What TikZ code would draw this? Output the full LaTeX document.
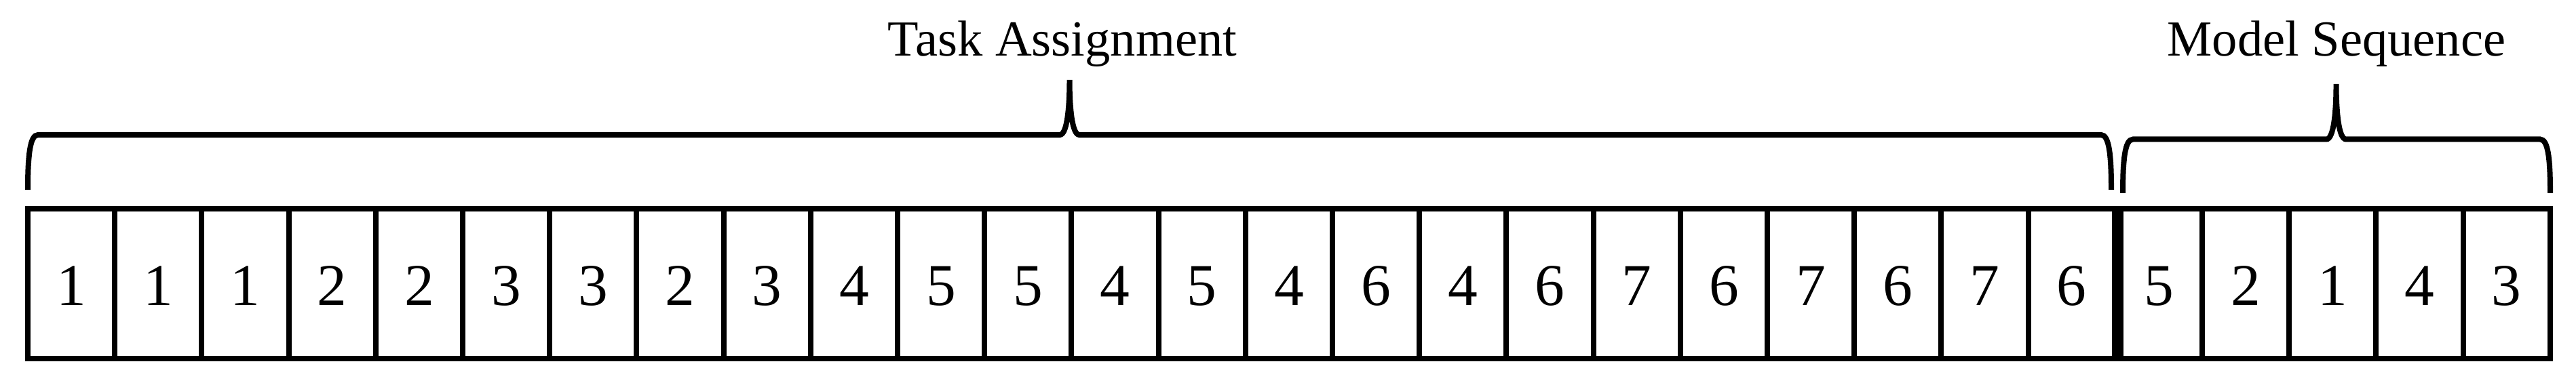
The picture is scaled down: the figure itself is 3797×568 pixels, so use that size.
\documentclass[tikz,border=0pt]{standalone}
\usepackage{fontspec}
\setmainfont{Liberation Serif}
\begin{document}
\begin{tikzpicture}[x=0.2pt,y=0.2pt,
  cell/.style={draw,line width=1.6pt,minimum width=25.64pt,minimum height=44.2pt,inner sep=0pt,anchor=center},
  digit/.style={font=\fontsize{17.5pt}{20pt}\selectfont,anchor=base,inner sep=0pt},
  bracepath/.style={line width=1.6pt},
  headlabel/.style={font=\fontsize{14.9pt}{18pt}\selectfont,anchor=base,inner sep=0pt}]
\useasboundingbox (0,0) rectangle (3797,568);
% cells
\def\cellw{128.2}
\foreach \v [count=\i] in {1,1,1,2,2,3,3,2,3,4,5,5,4,5,4,6,4,6,7,6,7,6,7,6,5,2,1,4,3}{
  \pgfmathsetmacro\cx{41+(\i-0.5)*\cellw}
  \node[cell] (c\i) at (\cx,149.5) {};
  \node[digit] (d\i) at (\cx,117) {\v};
}
% thick divider between the two parts
\draw[line width=3.4pt] (c24.north east) -- (c24.south east);
% braces
\coordinate (tbL) at (41,288);
\coordinate (tbR) at (3112,288);
\coordinate (tbTip) at (1576.5,450);
\coordinate (mbL) at (3129,283);
\coordinate (mbR) at (3759,283);
\coordinate (mbTip) at (3443.5,444);
\draw[bracepath] (tbL) .. controls (41,338) and (44,369) .. (56,369) -- (1562,369)
  .. controls (1573,369) and (1576.5,410) .. (tbTip)
  .. controls (1576.5,410) and (1580,369) .. (1591,369) -- (3097,369)
  .. controls (3109,369) and (3112,338) .. (tbR);
\draw[bracepath] (mbL) .. controls (3129,333) and (3132,362.5) .. (3144,362.5) -- (3429,362.5)
  .. controls (3440,362.5) and (3443.5,404) .. (mbTip)
  .. controls (3443.5,404) and (3447,362.5) .. (3458,362.5) -- (3744,362.5)
  .. controls (3756,362.5) and (3759,333) .. (mbR);
% labels
\node[headlabel] (taskLabel) at (1566,485) {Task Assignment};
\node[headlabel] (modelLabel) at (3444,485) {Model Sequence};
\end{tikzpicture}
\end{document}
